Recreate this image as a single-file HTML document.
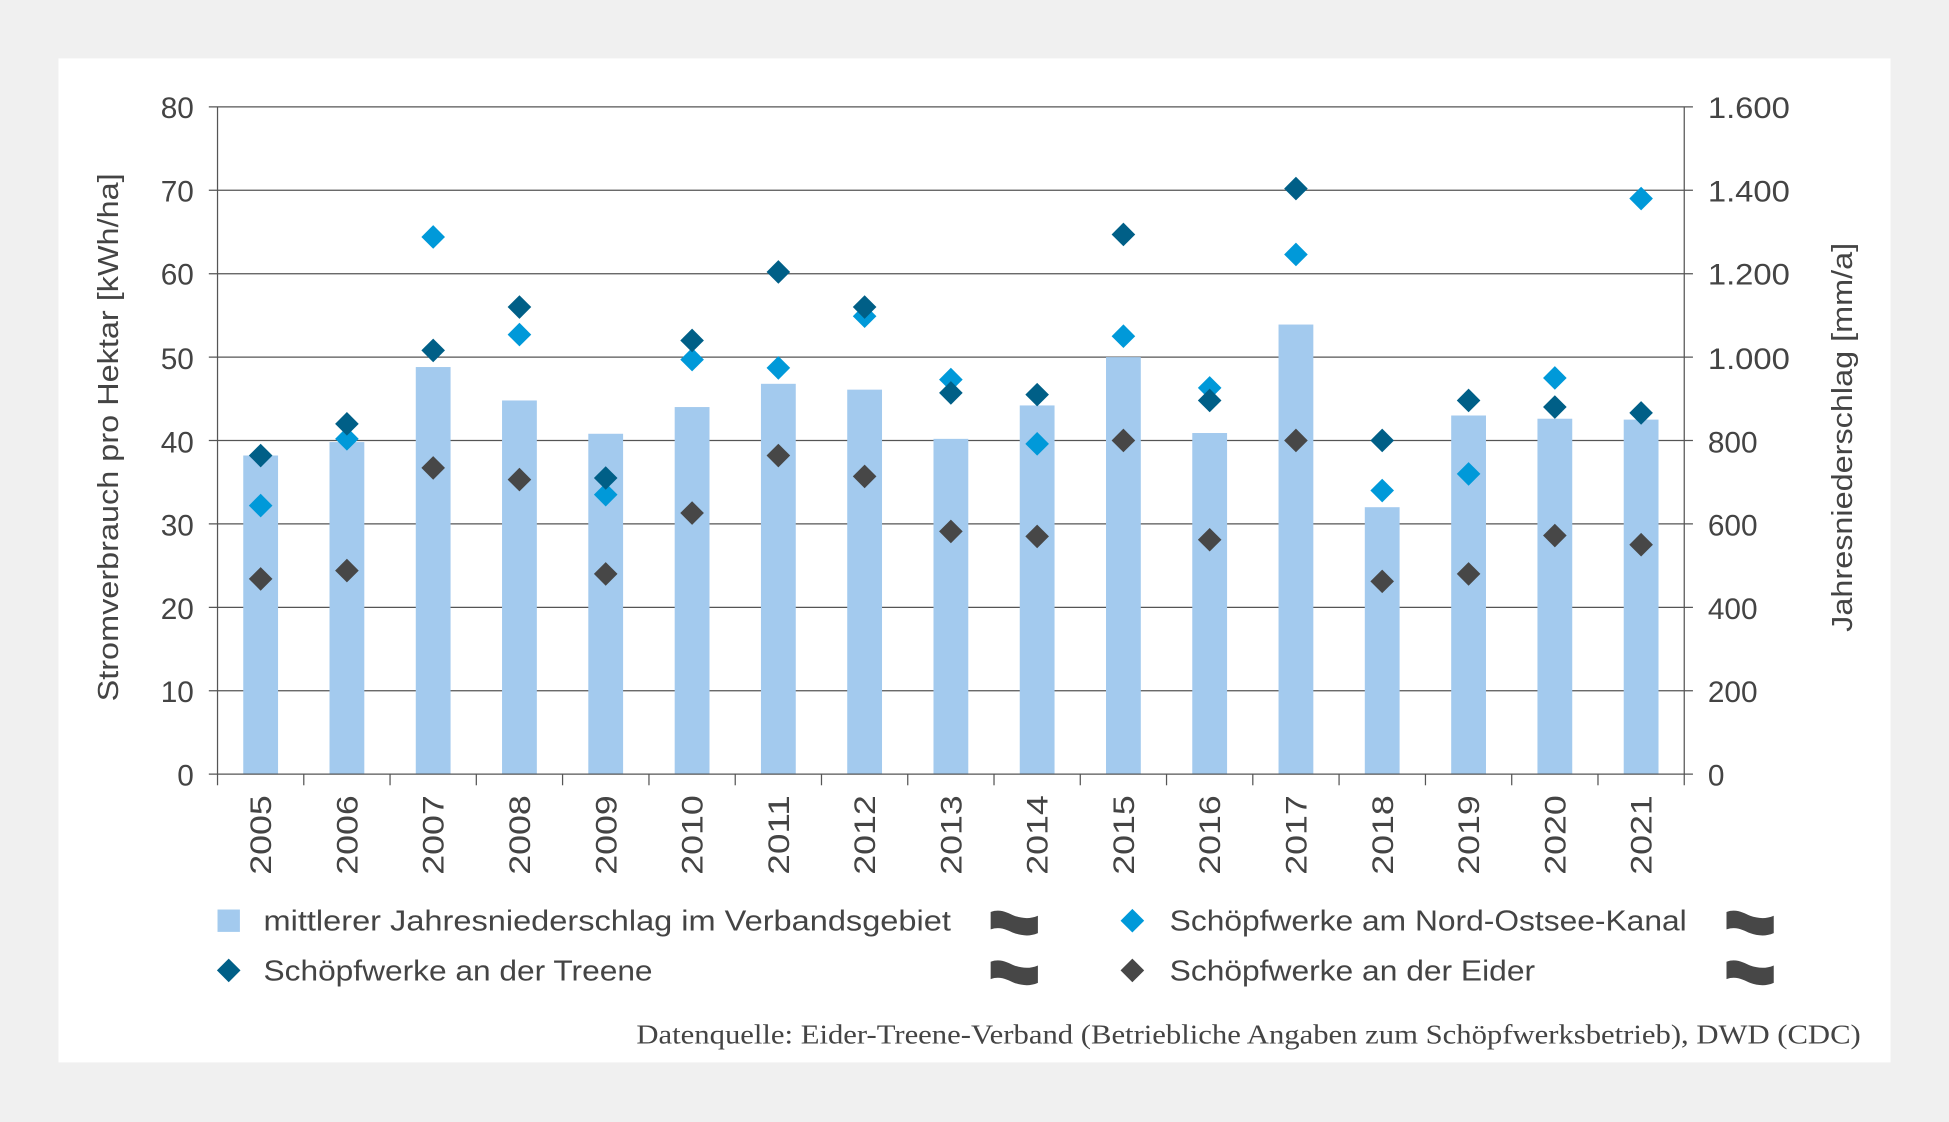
<!DOCTYPE html>
<html><head><meta charset="utf-8"><style>
html,body{margin:0;padding:0;background:#f0f0f0;}
svg{display:block;}
text{font-family:"Liberation Sans",sans-serif;fill:#444;}
</style></head><body>
<svg width="1949" height="1122" viewBox="0 0 1568 903" preserveAspectRatio="none" xmlns="http://www.w3.org/2000/svg">
<defs><path id="d" d="M0,-9.5 L9.5,0 L0,9.5 L-9.5,0Z"/></defs>
<rect x="0" y="0" width="1568" height="903" fill="#f0f0f0"/>
<rect x="47" y="47" width="1474" height="808" fill="#fff"/>
<g stroke="#555" stroke-width="1">
<line x1="168" y1="555.9" x2="1362" y2="555.9"/><line x1="168" y1="488.8" x2="1362" y2="488.8"/><line x1="168" y1="421.6" x2="1362" y2="421.6"/><line x1="168" y1="354.5" x2="1362" y2="354.5"/><line x1="168" y1="287.4" x2="1362" y2="287.4"/><line x1="168" y1="220.3" x2="1362" y2="220.3"/><line x1="168" y1="153.1" x2="1362" y2="153.1"/><line x1="168" y1="86" x2="1362" y2="86"/>
</g>
<g fill="#a3caee">
<rect x="195.7" y="366.6" width="28" height="256.4"/><rect x="265.1" y="355.8" width="28" height="267.2"/><rect x="334.5" y="295.4" width="28" height="327.6"/><rect x="403.9" y="322.3" width="28" height="300.7"/><rect x="473.3" y="349.1" width="28" height="273.9"/><rect x="542.8" y="327.6" width="28" height="295.4"/><rect x="612.2" y="308.9" width="28" height="314.1"/><rect x="681.6" y="313.6" width="28" height="309.4"/><rect x="751" y="353.2" width="28" height="269.8"/><rect x="820.4" y="326.3" width="28" height="296.7"/><rect x="889.8" y="287.4" width="28" height="335.6"/><rect x="959.2" y="348.5" width="28" height="274.5"/><rect x="1028.6" y="261.2" width="28" height="361.8"/><rect x="1098" y="408.2" width="28" height="214.8"/><rect x="1167.5" y="334.4" width="28" height="288.6"/><rect x="1236.9" y="337" width="28" height="286"/><rect x="1306.3" y="337.7" width="28" height="285.3"/>
</g>
<g stroke="#555" stroke-width="1">
<line x1="175" y1="86" x2="175" y2="632"/><line x1="1355" y1="86" x2="1355" y2="632"/><line x1="168" y1="623" x2="1362" y2="623"/>
<line x1="244.4" y1="623" x2="244.4" y2="632"/><line x1="313.8" y1="623" x2="313.8" y2="632"/><line x1="383.2" y1="623" x2="383.2" y2="632"/><line x1="452.6" y1="623" x2="452.6" y2="632"/><line x1="522.1" y1="623" x2="522.1" y2="632"/><line x1="591.5" y1="623" x2="591.5" y2="632"/><line x1="660.9" y1="623" x2="660.9" y2="632"/><line x1="730.3" y1="623" x2="730.3" y2="632"/><line x1="799.7" y1="623" x2="799.7" y2="632"/><line x1="869.1" y1="623" x2="869.1" y2="632"/><line x1="938.5" y1="623" x2="938.5" y2="632"/><line x1="1007.9" y1="623" x2="1007.9" y2="632"/><line x1="1077.3" y1="623" x2="1077.3" y2="632"/><line x1="1146.8" y1="623" x2="1146.8" y2="632"/><line x1="1216.2" y1="623" x2="1216.2" y2="632"/><line x1="1285.6" y1="623" x2="1285.6" y2="632"/>
</g>
<g fill="#0099d9">
<use href="#d" x="209.7" y="406.9"/><use href="#d" x="279.1" y="353.2"/><use href="#d" x="348.5" y="190.7"/><use href="#d" x="417.9" y="269.3"/><use href="#d" x="487.3" y="398.1"/><use href="#d" x="556.8" y="289.4"/><use href="#d" x="626.2" y="296.1"/><use href="#d" x="695.6" y="254.5"/><use href="#d" x="765" y="305.5"/><use href="#d" x="834.4" y="357.2"/><use href="#d" x="903.8" y="270.6"/><use href="#d" x="973.2" y="312.2"/><use href="#d" x="1042.6" y="204.8"/><use href="#d" x="1112" y="394.8"/><use href="#d" x="1181.5" y="381.4"/><use href="#d" x="1250.9" y="304.2"/><use href="#d" x="1320.3" y="159.8"/>
</g>
<g fill="#005f87">
<use href="#d" x="209.7" y="366.6"/><use href="#d" x="279.1" y="341.1"/><use href="#d" x="348.5" y="282"/><use href="#d" x="417.9" y="247.1"/><use href="#d" x="487.3" y="384.7"/><use href="#d" x="556.8" y="274"/><use href="#d" x="626.2" y="218.9"/><use href="#d" x="695.6" y="247.1"/><use href="#d" x="765" y="316.2"/><use href="#d" x="834.4" y="317.6"/><use href="#d" x="903.8" y="188.7"/><use href="#d" x="973.2" y="322.3"/><use href="#d" x="1042.6" y="151.8"/><use href="#d" x="1112" y="354.5"/><use href="#d" x="1181.5" y="322.3"/><use href="#d" x="1250.9" y="327.6"/><use href="#d" x="1320.3" y="332.3"/>
</g>
<g fill="#474747">
<use href="#d" x="209.7" y="465.9"/><use href="#d" x="279.1" y="459.2"/><use href="#d" x="348.5" y="376.6"/><use href="#d" x="417.9" y="386"/><use href="#d" x="487.3" y="461.9"/><use href="#d" x="556.8" y="412.9"/><use href="#d" x="626.2" y="366.6"/><use href="#d" x="695.6" y="383.4"/><use href="#d" x="765" y="427.7"/><use href="#d" x="834.4" y="431.7"/><use href="#d" x="903.8" y="354.5"/><use href="#d" x="973.2" y="434.4"/><use href="#d" x="1042.6" y="354.5"/><use href="#d" x="1112" y="467.9"/><use href="#d" x="1181.5" y="461.9"/><use href="#d" x="1250.9" y="431"/><use href="#d" x="1320.3" y="438.4"/>
</g>
<g font-size="24" text-anchor="end">
<text x="156" y="632">0</text><text x="156" y="565">10</text><text x="156" y="498">20</text><text x="156" y="431">30</text><text x="156" y="364">40</text><text x="156" y="297">50</text><text x="156" y="229">60</text><text x="156" y="162">70</text><text x="156" y="95">80</text>
</g>
<g font-size="24">
<text x="1374" y="632">0</text><text x="1374" y="565">200</text><text x="1374" y="498">400</text><text x="1374" y="431">600</text><text x="1374" y="364">800</text><text x="1374" y="297" textLength="66" lengthAdjust="spacingAndGlyphs">1.000</text><text x="1374" y="229" textLength="66" lengthAdjust="spacingAndGlyphs">1.200</text><text x="1374" y="162" textLength="66" lengthAdjust="spacingAndGlyphs">1.400</text><text x="1374" y="95" textLength="66" lengthAdjust="spacingAndGlyphs">1.600</text>
</g>
<g font-size="24" text-anchor="end">
<text transform="translate(218.2,640) rotate(-90)" textLength="64" lengthAdjust="spacingAndGlyphs">2005</text><text transform="translate(287.6,640) rotate(-90)" textLength="64" lengthAdjust="spacingAndGlyphs">2006</text><text transform="translate(357,640) rotate(-90)" textLength="64" lengthAdjust="spacingAndGlyphs">2007</text><text transform="translate(426.4,640) rotate(-90)" textLength="64" lengthAdjust="spacingAndGlyphs">2008</text><text transform="translate(495.8,640) rotate(-90)" textLength="64" lengthAdjust="spacingAndGlyphs">2009</text><text transform="translate(565.3,640) rotate(-90)" textLength="64" lengthAdjust="spacingAndGlyphs">2010</text><text transform="translate(634.7,640) rotate(-90)" textLength="64" lengthAdjust="spacingAndGlyphs">2011</text><text transform="translate(704.1,640) rotate(-90)" textLength="64" lengthAdjust="spacingAndGlyphs">2012</text><text transform="translate(773.5,640) rotate(-90)" textLength="64" lengthAdjust="spacingAndGlyphs">2013</text><text transform="translate(842.9,640) rotate(-90)" textLength="64" lengthAdjust="spacingAndGlyphs">2014</text><text transform="translate(912.3,640) rotate(-90)" textLength="64" lengthAdjust="spacingAndGlyphs">2015</text><text transform="translate(981.7,640) rotate(-90)" textLength="64" lengthAdjust="spacingAndGlyphs">2016</text><text transform="translate(1051.1,640) rotate(-90)" textLength="64" lengthAdjust="spacingAndGlyphs">2017</text><text transform="translate(1120.5,640) rotate(-90)" textLength="64" lengthAdjust="spacingAndGlyphs">2018</text><text transform="translate(1190,640) rotate(-90)" textLength="64" lengthAdjust="spacingAndGlyphs">2019</text><text transform="translate(1259.4,640) rotate(-90)" textLength="64" lengthAdjust="spacingAndGlyphs">2020</text><text transform="translate(1328.8,640) rotate(-90)" textLength="64" lengthAdjust="spacingAndGlyphs">2021</text>
</g>
<text font-size="23" text-anchor="middle" transform="translate(95,352) rotate(-90)" textLength="425" lengthAdjust="spacingAndGlyphs">Stromverbrauch pro Hektar [kWh/ha]</text>
<text font-size="23" text-anchor="middle" transform="translate(1490,352) rotate(-90)" textLength="313" lengthAdjust="spacingAndGlyphs">Jahresniederschlag [mm/a]</text>
<rect x="175" y="732" width="18" height="18" fill="#a3caee"/>
<use href="#d" x="184" y="781" fill="#005f87"/>
<use href="#d" x="911" y="741" fill="#0099d9"/>
<use href="#d" x="911" y="781" fill="#474747"/>
<g font-size="23">
<text x="212" y="749" textLength="553" lengthAdjust="spacingAndGlyphs">mittlerer Jahresniederschlag im Verbandsgebiet</text>
<text x="212" y="789" textLength="313" lengthAdjust="spacingAndGlyphs">Schöpfwerke an der Treene</text>
<text x="941" y="749" textLength="416" lengthAdjust="spacingAndGlyphs">Schöpfwerke am Nord-Ostsee-Kanal</text>
<text x="941" y="789" textLength="294" lengthAdjust="spacingAndGlyphs">Schöpfwerke an der Eider</text>
</g>
<g fill="#474747">
<path d="M797,734 c8,-3 14,1 19,3 c6,2 12,3 19,0 v14 c-7,3 -13,2 -19,0 c-5,-2 -11,-6 -19,-3 z"/>
<path d="M797,774 c8,-3 14,1 19,3 c6,2 12,3 19,0 v14 c-7,3 -13,2 -19,0 c-5,-2 -11,-6 -19,-3 z"/>
<path d="M1389,734 c8,-3 14,1 19,3 c6,2 12,3 19,0 v14 c-7,3 -13,2 -19,0 c-5,-2 -11,-6 -19,-3 z"/>
<path d="M1389,774 c8,-3 14,1 19,3 c6,2 12,3 19,0 v14 c-7,3 -13,2 -19,0 c-5,-2 -11,-6 -19,-3 z"/>
</g>
<text x="1497" y="840" font-size="22" text-anchor="end" style="font-family:'Liberation Serif',serif" textLength="985" lengthAdjust="spacingAndGlyphs">Datenquelle: Eider-Treene-Verband (Betriebliche Angaben zum Schöpfwerksbetrieb), DWD (CDC)</text>
</svg>
</body></html>
